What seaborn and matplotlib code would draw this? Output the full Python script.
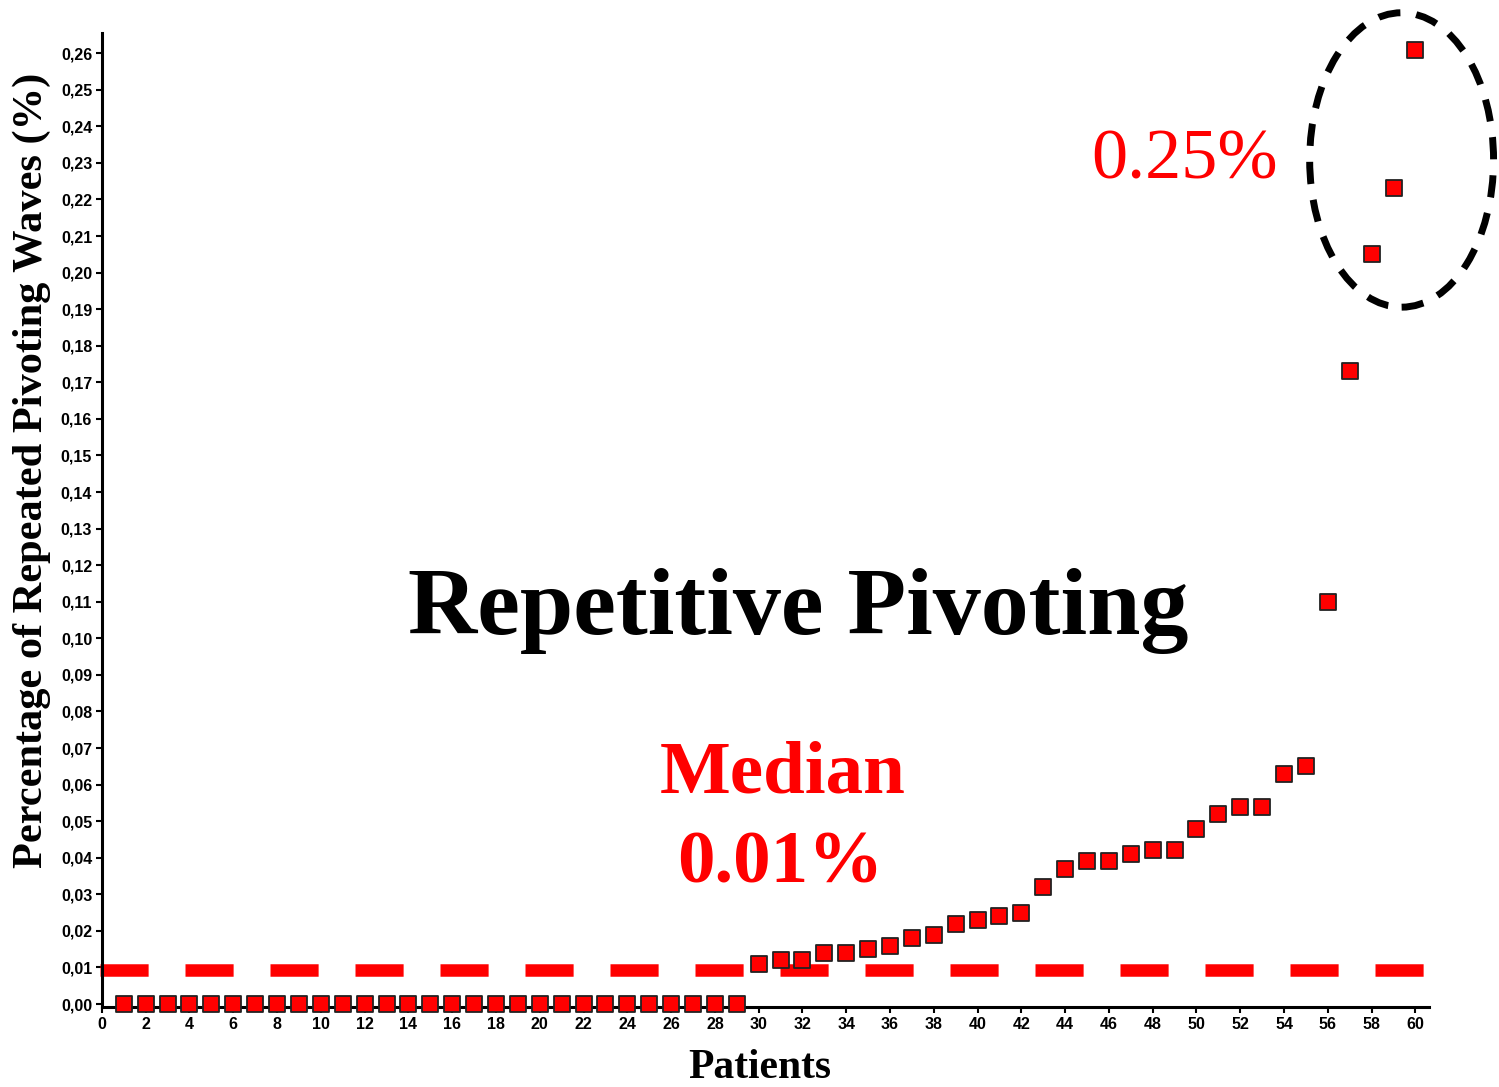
import numpy as np
import pandas as pd
import matplotlib
matplotlib.use("Agg")
import matplotlib.pyplot as plt
import seaborn as sns
from matplotlib.patches import Ellipse
from matplotlib.ticker import FuncFormatter, MultipleLocator
from matplotlib import font_manager

patients = list(range(1, 61))
values = [0.0] * 29 + [
    0.011, 0.012, 0.012, 0.014, 0.014, 0.015, 0.016, 0.018, 0.019, 0.022,
    0.023, 0.024, 0.025, 0.032, 0.037, 0.039, 0.039, 0.041, 0.042, 0.042,
    0.048, 0.052, 0.054, 0.054, 0.063, 0.065, 0.110, 0.173, 0.205, 0.223,
    0.261,
]
median_value = 0.0093
title_text = "Repetitive Pivoting"
median_label = "Median"
median_text = "0.01%"
top_text = "0.25%"
x_label = "Patients"
y_label = "Percentage of Repeated Pivoting Waves (%)"

df = pd.DataFrame({"Patients": patients, "Value": values})

sns.set_theme(style="ticks")
plt.rcParams["font.family"] = ["Liberation Serif", "DejaVu Serif"]

names = {f.name for f in font_manager.fontManager.ttflist}
tick_family = "Liberation Sans Narrow" if "Liberation Sans Narrow" in names else "Liberation Sans"

fig = plt.figure(figsize=(14.99, 10.87), dpi=100)
ax = fig.add_axes([0.068, 0.0736, 0.885, 0.896])

# median dashed line
ax.plot([-0.1, 60.5], [median_value, median_value], color="#ff0000", lw=9.0,
        dashes=(3.85, 2.95), solid_capstyle="butt", dash_capstyle="butt",
        clip_on=False, zorder=2)

sns.scatterplot(data=df, x="Patients", y="Value", marker="s", s=140,
                color="#ff0000", edgecolor="#222222", linewidth=1.3,
                ax=ax, zorder=3, clip_on=False, legend=False)

ax.set_xlim(0, 60.6)
ax.set_ylim(-0.0008, 0.2655)
ax.xaxis.set_major_locator(MultipleLocator(2))
ax.yaxis.set_major_locator(MultipleLocator(0.01))
ax.yaxis.set_major_formatter(FuncFormatter(lambda v, p: f"{v:.2f}".replace(".", ",")))
ax.xaxis.set_major_formatter(FuncFormatter(lambda v, p: f"{int(round(v))}"))
tsize = 13 if tick_family == "Liberation Sans Narrow" else 11.5
for lab in ax.get_xticklabels() + ax.get_yticklabels():
    lab.set_fontfamily(tick_family)
    lab.set_fontweight("bold")
    lab.set_fontsize(tsize)
    lab.set_color("black")
ax.tick_params(axis="both", direction="out", length=4, width=1.5, pad=3, colors="black")

sns.despine(ax=ax)
for s in ["left", "bottom"]:
    ax.spines[s].set_linewidth(2.2)
    ax.spines[s].set_color("black")

ax.set_xlabel(x_label, fontsize=30, fontweight="bold", color="black")
ax.set_ylabel(y_label, fontsize=30.5, fontweight="bold", color="black")
ax.xaxis.label.set_va("center")
ax.yaxis.label.set_va("center")
ax.xaxis.set_label_coords(0.496, -0.063)
ax.yaxis.set_label_coords(-0.053, 0.551)

ax.text(31.8, 0.1075, title_text, fontsize=69, fontweight="bold", color="black",
        ha="center", va="center")
ax.text(31.1, 0.0627, median_label, fontsize=54, fontweight="bold", color="#ff0000",
        ha="center", va="center")
ax.text(31.0, 0.0381, median_text, fontsize=54, fontweight="bold", color="#ff0000",
        ha="center", va="center")
ax.text(49.45, 0.2305, top_text, fontsize=52, color="#ff0000", ha="center", va="center")

ell = Ellipse((59.37, 0.2308), width=8.4, height=0.0805, fill=False,
              edgecolor="black", lw=5, linestyle=(0, (3.2, 2.3)), clip_on=False, zorder=4)
ax.add_patch(ell)

fig.savefig("out.png", dpi=100)
